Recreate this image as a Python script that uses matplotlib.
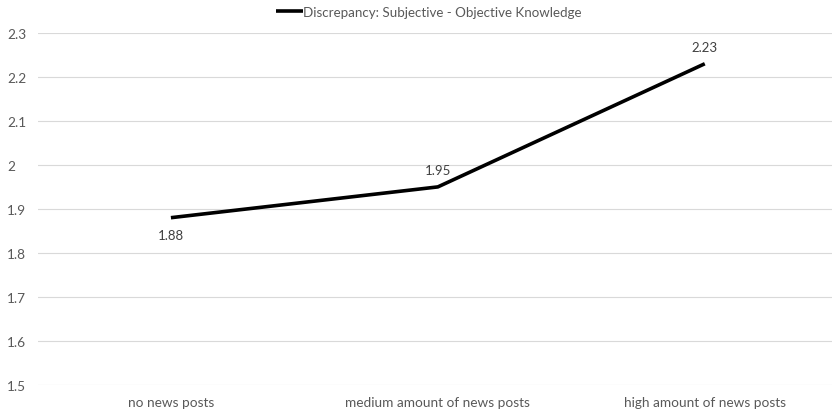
import matplotlib
matplotlib.use("Agg")
import matplotlib.pyplot as plt

categories = ["no news posts", "medium amount of news posts", "high amount of news posts"]
values = [1.88, 1.95, 2.23]
series_name = "Discrepancy: Subjective - Objective Knowledge"
label_pos = ["below", "above", "above"]
yticks = [1.5, 1.6, 1.7, 1.8, 1.9, 2.0, 2.1, 2.2, 2.3]
ytick_labels = ["1.5", "1.6", "1.7", "1.8", "1.9", "2", "2.1", "2.2", "2.3"]

plt.rcParams["font.family"] = ["Lato", "DejaVu Sans"]
text_color = "#595959"

fig = plt.figure(figsize=(8.33, 4.14), dpi=100)
ax = fig.add_axes([0.0456, 0.068, 0.953, 0.850])

x = list(range(len(categories)))
ax.plot(x, values, color="black", linewidth=2.6, solid_capstyle="butt",
        label=series_name, zorder=3)

for xi, v, pos in zip(x, values, label_pos):
    off = -8 if pos == "below" else 8
    va = "top" if pos == "below" else "bottom"
    ax.annotate(f"{v:.2f}", (xi, v), xytext=(0, off), textcoords="offset points",
                ha="center", va=va, fontsize=9.5, color="#404040")

ax.set_xlim(-0.498, 2.476)
ax.set_ylim(1.5, 2.3)
ax.set_yticks(yticks)
ax.set_yticklabels(ytick_labels)
ax.set_xticks(x)
ax.set_xticklabels(categories)
ax.tick_params(axis="both", length=0, labelsize=9.8, labelcolor=text_color)
ax.tick_params(axis="y", pad=22)
ax.tick_params(axis="x", pad=8)
for lbl in ax.get_yticklabels():
    lbl.set_horizontalalignment("left")

ax.grid(axis="y", color="#d9d9d9", linewidth=0.8)
ax.set_axisbelow(True)
for s in ax.spines.values():
    s.set_visible(False)

leg = fig.legend(loc="upper center", bbox_to_anchor=(0.515, 1.012), frameon=False,
                 fontsize=9.6, handlelength=2.0, handletextpad=0.0,
                 labelcolor=text_color)

fig.savefig("out.png", dpi=100, facecolor="white")
